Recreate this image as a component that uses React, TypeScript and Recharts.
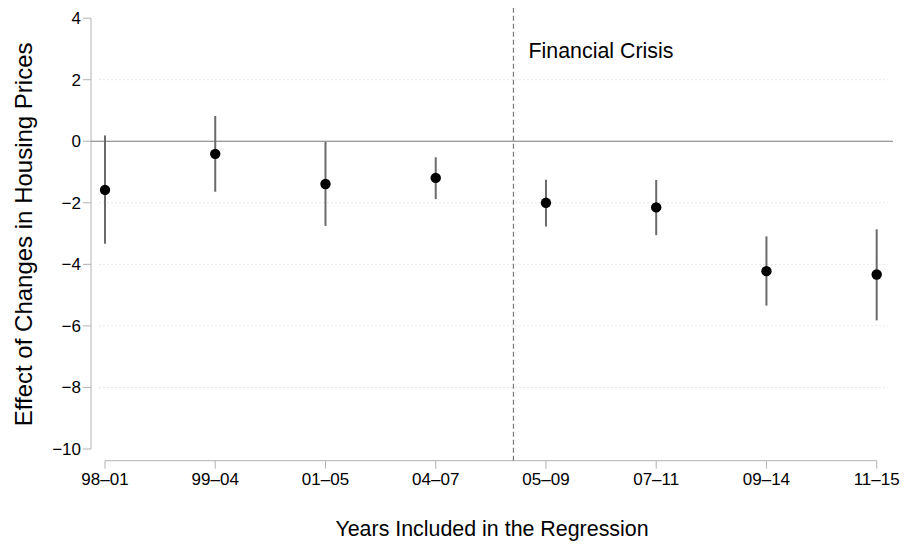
import {
  ComposedChart,
  Scatter,
  ErrorBar,
  XAxis,
  YAxis,
  ReferenceLine,
  Label,
} from 'recharts';

// periods covered by each regression
const periods = ['98–01', '99–04', '01–05', '04–07', '05–09', '07–11', '09–14', '11–15'];
const estimates = [-1.58, -0.41, -1.39, -1.19, -2.0, -2.15, -4.22, -4.33];
const lower = [-3.33, -1.64, -2.75, -1.88, -2.77, -3.05, -5.34, -5.82];
const upper = [0.19, 0.82, -0.02, -0.52, -1.25, -1.26, -3.09, -2.86];
const yTicks = [4, 2, 0, -2, -4, -6, -8, -10];
const gridValues = [2, -2, -4, -6, -8];
const crisisAt = 3.705; // between 04-07 and 05-09

const rows = periods.map((p, i) => ({
  x: i,
  est: estimates[i],
  err: [estimates[i] - lower[i], upper[i] - estimates[i]],
}));

const font = '"Liberation Sans", Arial, Helvetica, sans-serif';
const axisGrey = '#b3b3b3';

export default function App() {
  return (
    <div style={{ position: 'absolute', left: 0, top: 0, background: '#fff' }}>
      <ComposedChart
        width={905}
        height={544}
        data={rows}
        margin={{ top: 8, right: 12, bottom: 0, left: 0 }}
        style={{ fontFamily: font }}
      >
        <XAxis
          type="number"
          dataKey="x"
          domain={[-0.127, 7.148]}
          ticks={[0, 1, 2, 3, 4, 5, 6, 7]}
          allowDataOverflow
          tickFormatter={(v: number) => periods[v] ?? ''}
          axisLine={false}
          tickLine={{ stroke: axisGrey }}
          tickSize={8}
          tickMargin={4}
          height={83.3}
          tick={{ fill: '#000', fontSize: 17 }}
        >
          <Label
            value="Years Included in the Regression"
            position="insideBottom"
            offset={8}
            style={{ fontSize: 21.4, fill: '#000' }}
          />
        </XAxis>
        <YAxis
          type="number"
          domain={[-10.38, 4.33]}
          ticks={yTicks}
          allowDataOverflow
          interval={0}
          width={91}
          axisLine={false}
          tickLine={{ stroke: axisGrey }}
          tickSize={8}
          tickMargin={2}
          tick={{ fill: '#000', fontSize: 17 }}
          tickFormatter={(v: number) => String(v).replace('-', '−')}
        >
          <Label
            value="Effect of Changes in Housing Prices"
            angle={-90}
            position="insideLeft"
            offset={23}
            style={{ fontSize: 24, fill: '#000', textAnchor: 'middle' }}
          />
        </YAxis>

        {gridValues.map((g) => (
          <ReferenceLine
            key={g}
            segment={[{ x: -0.05, y: g }, { x: 7.1, y: g }]}
            stroke="#cfcfcf"
            strokeDasharray="1 3"
          />
        ))}
        {/* stata style axis lines */}
        <ReferenceLine
          segment={[{ x: -0.127, y: -10 }, { x: -0.127, y: 4 }]}
          stroke={axisGrey}
          ifOverflow="visible"
        />
        <ReferenceLine
          segment={[{ x: 0, y: -10.38 }, { x: 7, y: -10.38 }]}
          stroke={axisGrey}
          ifOverflow="visible"
        />
        <ReferenceLine y={0} stroke="#7a7a7a" strokeWidth={1.2} />
        <ReferenceLine
          x={crisisAt}
          stroke="#777"
          strokeWidth={1.2}
          strokeDasharray="5 3"
        >
          <Label
            value="Financial Crisis"
            position="insideTopLeft"
            offset={0}
            dx={15}
            dy={35}
            style={{ fontSize: 21.4, fill: '#000' }}
          />
        </ReferenceLine>

        <Scatter
          dataKey="est"
          fill="#000"
          isAnimationActive={false}
          shape={(p: any) => <circle cx={p.cx} cy={p.cy} r={5.2} fill="#000" />}
        >
          <ErrorBar dataKey="err" direction="y" width={0} stroke="#6a6a6a" strokeWidth={2} />
        </Scatter>
      </ComposedChart>
    </div>
  );
}
